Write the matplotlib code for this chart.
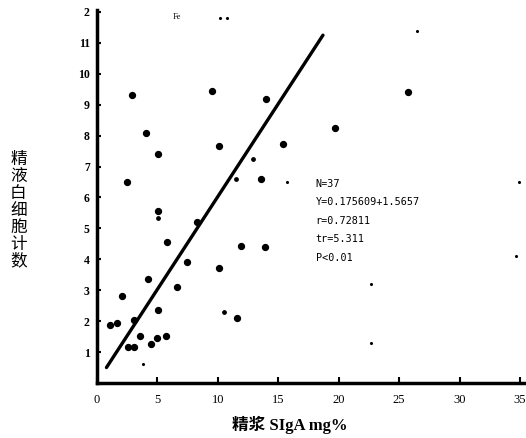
import numpy as np
import matplotlib.pyplot as plt

plt.rcParams['font.family'] = ['Liberation Serif', 'Noto Sans CJK SC']

# puntos del diagrama (SIgA mg%, leucocitos)
sx = [2.9, 9.5, 14.0, 25.7, 4.05, 19.7, 5.1, 10.1, 15.4, 2.5, 13.6,
      5.1, 8.3, 5.8, 11.9, 13.9, 7.5, 10.1, 4.2, 6.6, 2.1, 5.1,
      3.1, 1.1, 1.65, 11.6, 3.6, 5.7, 5.0, 4.5, 2.6, 3.1]
sy = [9.3, 9.45, 9.2, 9.4, 8.1, 8.25, 7.4, 7.65, 7.73, 6.5, 6.6,
      5.57, 5.2, 4.56, 4.43, 4.4, 3.9, 3.72, 3.37, 3.1, 2.82, 2.36,
      2.04, 1.88, 1.95, 2.1, 1.52, 1.52, 1.45, 1.27, 1.17, 1.17]
# puntos pequeños / huecos
hx = [5.1, 12.9, 11.5, 10.5]
hy = [5.34, 7.25, 6.6, 2.3]
# manchas del escaneo
mx = [26.5, 34.9, 34.7, 22.7, 22.7, 3.8, 15.7, 10.2, 10.8]
my = [11.4, 6.5, 4.1, 3.2, 1.3, 0.6, 6.5, 11.8, 11.8]

# recta de regresion
lx = [0.8, 18.7]
ly = [0.5, 11.25]

xticks = [0, 5, 10, 15, 20, 25, 30, 35]
yticks = [1, 2, 3, 4, 5, 6, 7, 8, 9, 10, 11, 12]
ylabs = ['1', '2', '3', '4', '5', '6', '7', '8', '9', '10', '11', '2']

stats = ['N=37', 'Y=0.175609+1.5657', 'r=0.72811', 'tr=5.311', 'P<0.01']

fig = plt.figure(figsize=(5.26, 4.38), dpi=100)
ax = fig.add_axes([0.184, 0.1256, 0.814, 0.852])

ax.plot(lx, ly, color='black', lw=2.4, solid_capstyle='round')
ax.scatter(sx, sy, s=18, color='black', zorder=3)
ax.scatter(hx, hy, s=6, color='black', zorder=3)
ax.scatter(mx, my, s=1.5, color='black', zorder=3)

ax.set_xlim(0, 35.4)
ax.set_ylim(0, 12.07)
ax.spines['top'].set_visible(False)
ax.spines['right'].set_visible(False)
ax.spines['left'].set_linewidth(2.5)
ax.spines['bottom'].set_linewidth(2.5)

ax.set_xticks(xticks)
ax.set_xticklabels([str(v) for v in xticks], fontsize=9)
ax.set_yticks(yticks)
ax.set_yticklabels(ylabs, fontsize=8.5, fontweight='bold')
ax.tick_params(axis='x', direction='in', length=4, width=1.5, pad=8)
ax.tick_params(axis='y', direction='in', length=3, width=1.5, pad=5)

for i, t in enumerate(stats):
    ax.text(18.1, 6.35 - i * 0.6, t, fontsize=7.3, family='DejaVu Sans Mono')

ax.text(6.3, 11.85, 'Fe', fontsize=6, va='center')

fig.text(0.55, 0.03, '精浆 SIgA mg%', ha='center', va='center', fontsize=12,
         fontweight='bold', family=['Liberation Serif', 'Noto Sans CJK SC'])
fig.text(0.035, 0.52, '\n'.join('精液白细胞计数'), ha='center', va='center',
         fontsize=12, linespacing=1.0, family='Noto Sans CJK SC')

fig.savefig('out.png', dpi=100)
